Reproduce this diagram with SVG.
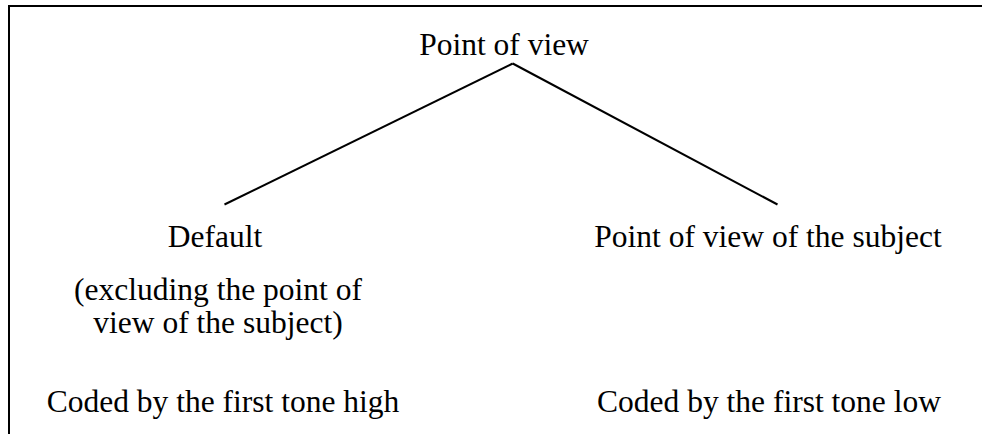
<svg xmlns="http://www.w3.org/2000/svg" width="982" height="434" viewBox="0 0 982 434">
  <style>
    .t { font-family: "Liberation Serif", "Times New Roman", serif; font-size: 31.5px; fill: #000; text-anchor: middle; }
    .frame { stroke: #000; stroke-width: 2; fill: none; }
    .edge { stroke: #000; stroke-width: 2; fill: none; stroke-linecap: butt; }
  </style>
  <rect width="982" height="434" fill="#fff"/>
  <!-- open frame: top rule and left rule -->
  <path class="frame" d="M982 6 H9 V434"/>
  <g id="connectors">
    <line class="edge" x1="512.7" y1="63.5" x2="224.5" y2="204.5"/>
    <line class="edge" x1="512.7" y1="63.5" x2="777.5" y2="204.5"/>
  </g>
  <g id="root">
    <text class="t" x="504" y="55">Point of view</text>
  </g>
  <g id="default">
    <text class="t" x="215" y="247">Default</text>
    <text class="t" x="218" y="300">(excluding the point of</text>
    <text class="t" x="218" y="333">view of the subject)</text>
    <text class="t" x="223" y="412">Coded by the first tone high</text>
  </g>
  <g id="subject">
    <text class="t" x="768" y="247">Point of view of the subject</text>
    <text class="t" x="769" y="412">Coded by the first tone low</text>
  </g>
</svg>
